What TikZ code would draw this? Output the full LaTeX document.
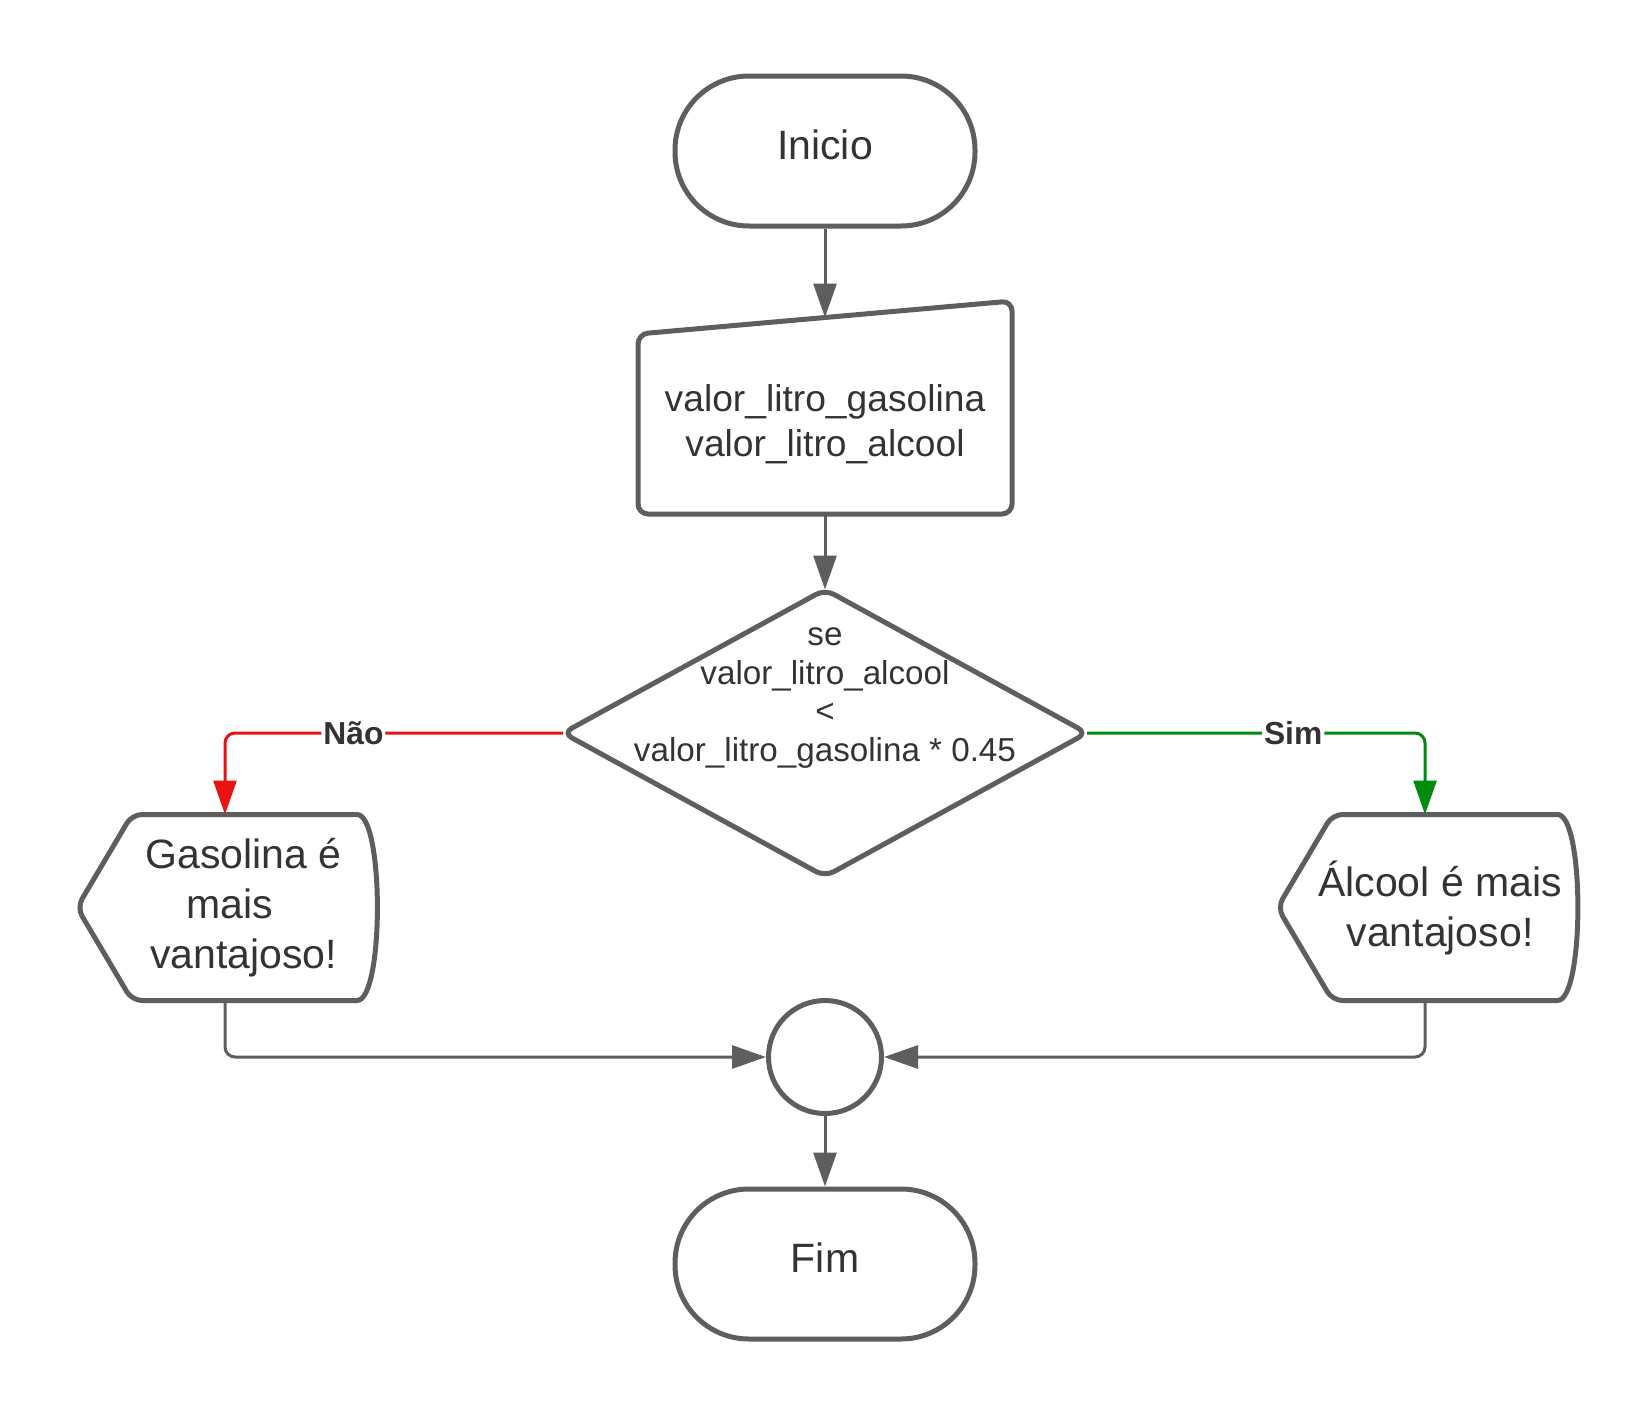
\documentclass[tikz,border=0pt]{standalone}
\usepackage{fontspec}
\setmainfont{Liberation Sans}
\usepackage{tikz}
\usetikzlibrary{arrows.meta}
\definecolor{linegray}{HTML}{5E5E5E}
\definecolor{textgray}{HTML}{333333}
\definecolor{naored}{HTML}{E81313}
\definecolor{simgreen}{HTML}{008A0E}
\tikzstyle{startstop} = [rectangle, rounded corners=37pt, minimum width=150pt, minimum height=75pt, text depth=6pt, text centered, draw=linegray, line width=2.5pt, text=textgray, font=\fontsize{20.5pt}{25pt}\selectfont]
\tikzstyle{io} = [rectangle, minimum width=187pt, minimum height=90pt, outer sep=0pt, align=center, text=textgray, font=\fontsize{18.6pt}{22.5pt}\selectfont]
\tikzstyle{decision} = [rectangle, minimum width=262pt, minimum height=143.5pt, outer sep=0pt, align=center, text=textgray, font=\fontsize{16.6pt}{19.2pt}\selectfont]
\tikzstyle{output} = [rectangle, minimum width=107.5pt, minimum height=93pt, inner xsep=-12pt, outer sep=0pt, align=center, text=textgray, font=\fontsize{20.5pt}{25pt}\selectfont]
\tikzstyle{junction} = [circle, minimum size=56.5pt, inner sep=0pt, draw=linegray, line width=2.5pt]
\tikzstyle{outline} = [draw=linegray, line width=2.5pt, rounded corners=5pt]
\tikzstyle{arrow} = [line width=1.5pt, draw=linegray, rounded corners=5pt, -{Triangle[length=17pt, width=11.5pt]}]
\tikzstyle{arrowno} = [arrow, draw=naored]
\tikzstyle{arrowsim} = [arrow, draw=simgreen]
\tikzstyle{answer} = [fill=white, inner sep=1pt, text=textgray, font=\bfseries\fontsize{15.9pt}{18pt}\selectfont]

\begin{document}
\begin{tikzpicture}[node distance=136.5pt]
\useasboundingbox (0,0) rectangle (825pt,-707pt);
\node (start) [startstop] at (412.5pt,-75.5pt) {Inicio};
\node (in1) [io, below of=start] {valor\_litro\_gasolina\\valor\_litro\_alcool};
\node (dec1) [decision, below of=in1, yshift=-18pt] {se\\valor\_litro\_alcool\\<\\valor\_litro\_gasolina * 0.45\\\mbox{}\\\mbox{}};
\node (nao) [output, left of=dec1, xshift=-156.25pt, yshift=-87.25pt] {\hspace*{4pt}Gasolina é\\\hspace*{-10pt}mais\\\hspace*{4pt}vantajoso!};
\node (sim) [output, right of=dec1, xshift=171pt, yshift=-87.25pt] {Álcool é mais\\vantajoso!};
\node (join) [junction, below of=dec1, yshift=-25.5pt] {};
\node (stop) [startstop, below of=join, yshift=33pt] {Fim};

% shapes drawn round the text nodes
\draw [outline] (in1.south west) -- (in1.north west) -- ([yshift=16.5pt]in1.north east) -- (in1.south east) -- cycle;
\draw [outline] (dec1.north) -- (dec1.east) -- (dec1.south) -- (dec1.west) -- cycle;
\draw [outline] (nao.south west) -- ([xshift=-27.5pt]nao.west) -- (nao.north west) -- (nao.north east) .. controls ([xshift=18.6pt]nao.north east) and ([xshift=18.6pt]nao.south east) .. (nao.south east) -- cycle;
\draw [outline] (sim.south west) -- ([xshift=-27.5pt]sim.west) -- (sim.north west) -- (sim.north east) .. controls ([xshift=18.6pt]sim.north east) and ([xshift=18.6pt]sim.south east) .. (sim.south east) -- cycle;

\coordinate (in1top) at ([yshift=8.25pt]in1.north);
\coordinate (naotop) at ([xshift=-7.25pt]nao.north);
\coordinate (naobot) at ([xshift=-7.25pt]nao.south);
\coordinate (simtop) at ([xshift=-7.5pt]sim.north);
\coordinate (simbot) at ([xshift=-7.5pt]sim.south);

\draw [arrow] (start) -- (in1top);
\draw [arrow] (in1) -- (dec1);
\draw [arrowno] (dec1.west) -| node[answer, pos=0.31] {Não} (naotop);
\draw [arrowsim] (dec1.east) -| node[answer, pos=0.305] {Sim} (simtop);
\draw [arrow] (naobot) |- (join.west);
\draw [arrow] (simbot) |- (join.east);
\draw [arrow] (join) -- (stop);
\end{tikzpicture}
\end{document}
